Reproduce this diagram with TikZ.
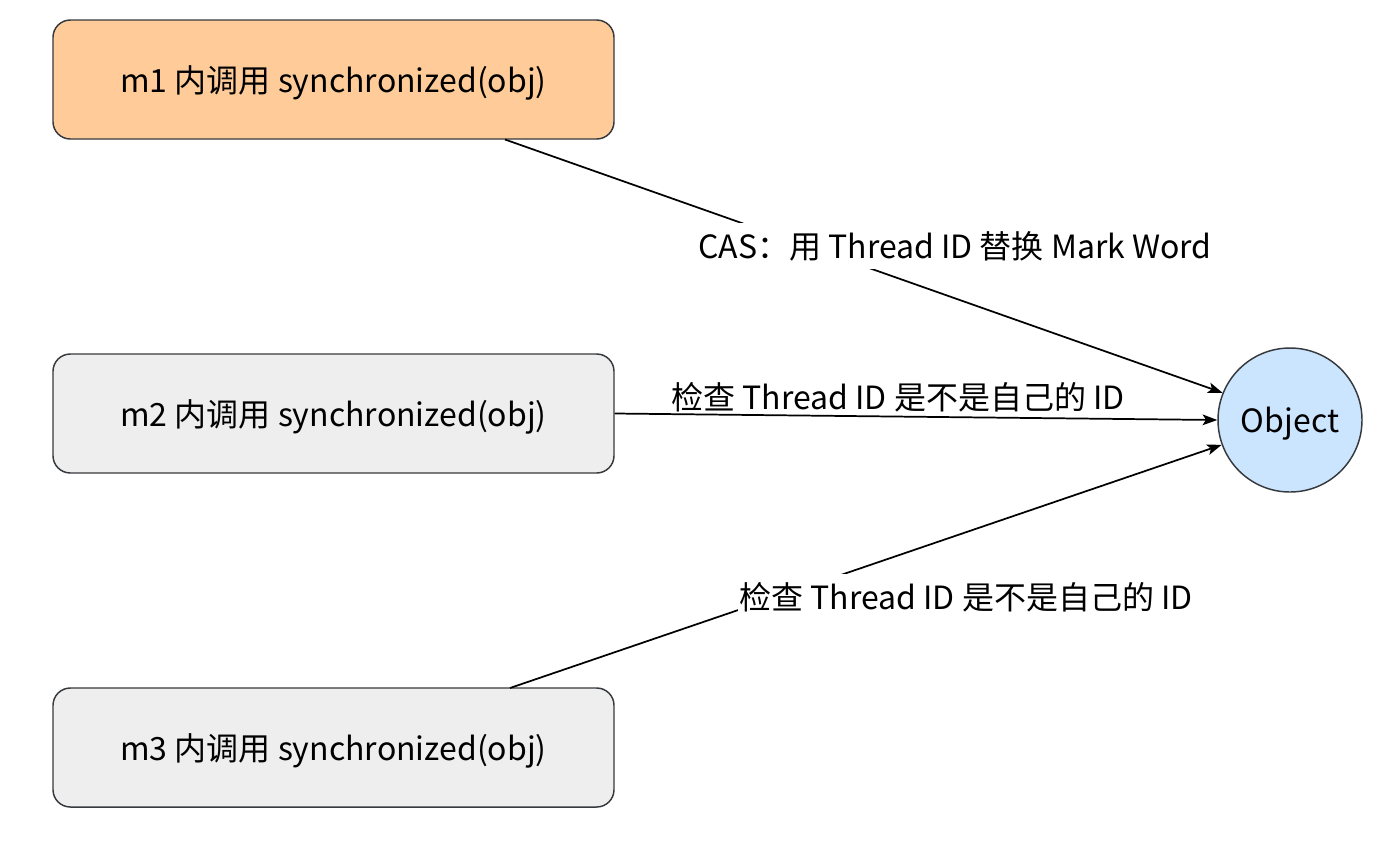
\documentclass[tikz,border=0pt]{standalone}
\usepackage{fontspec}
\setmainfont{Noto Sans CJK SC}
\usetikzlibrary{arrows.meta}
\definecolor{edgeline}{HTML}{36393D}
\definecolor{orangefill}{HTML}{FFCC99}
\definecolor{grayfill}{HTML}{EEEEEE}
\definecolor{bluefill}{HTML}{CCE5FF}
\tikzset{
  txt/.style={font=\fontsize{24}{28}\selectfont},
  lowtxt/.style={txt, text height=20pt, text depth=0.8pt},
  box/.style={lowtxt, draw=edgeline, line width=1.1pt, rounded corners=13pt,
    minimum width=420.75pt, minimum height=89.25pt},
  objnode/.style={lowtxt, circle, draw=edgeline, line width=1.1pt, fill=bluefill,
    minimum size=108pt, inner sep=0pt},
  conn/.style={line width=1.3pt, -{Stealth[length=11pt,width=8pt,inset=2.5pt]}},
  lab/.style={txt, fill=white, inner xsep=1pt, inner ysep=0pt, minimum height=34pt},
  labnofill/.style={txt, inner sep=1pt}
}
\begin{document}
\begin{tikzpicture}[x=0.75pt,y=-0.75pt]
\useasboundingbox[fill=white] (0,0) rectangle (1395,840);
\node[box, fill=orangefill] (m1) at (333.5,79.5) {m1 内调用 synchronized(obj)};
\node[box, fill=grayfill] (m2) at (333.5,413.5) {m2 内调用 synchronized(obj)};
\node[box, fill=grayfill] (m3) at (333.5,747.5) {m3 内调用 synchronized(obj)};
\node[objnode] (obj) at (1290,420) {Object};
\coordinate (s1) at (505,139.5);
\coordinate (s3) at (510,688);
\draw[conn] (s1) -- (obj.158.9);
\draw[conn] (m2.east) -- (obj.west);
\draw[conn] (s3) -- (obj.200);
\node[lab] (l1) at (955,246) {CAS：用 Thread ID 替换 Mark Word};
\node[labnofill] (l2) at (898,397) {检查 Thread ID 是不是自己的 ID};
\node[lab] (l3) at (966,597) {检查 Thread ID 是不是自己的 ID};
\end{tikzpicture}
\end{document}
